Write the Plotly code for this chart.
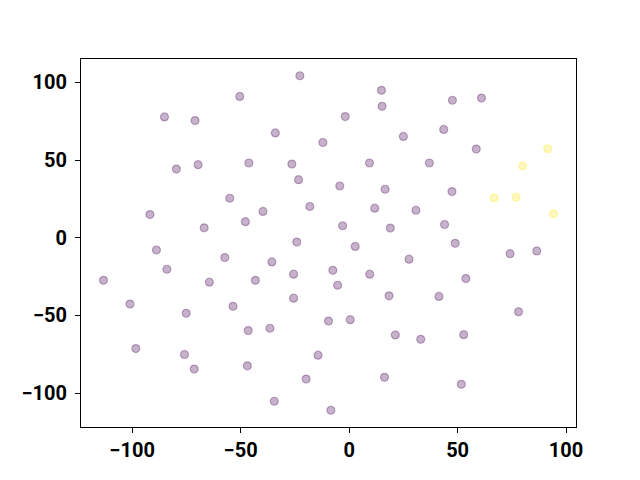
import plotly.graph_objects as go

# purple group (cluster 0)
x_purple = [-50.4, -85.1, -71.0, -79.6, -69.6, -46.2, -55.0, -91.8, -66.8, -47.8,
            -88.8, -22.7, 14.9, 15.2, -1.8, -34.0, -12.1, 25.0, -26.4, 9.4,
            -23.3, -4.3, 16.6, -18.1, 11.8, -39.7, -3.0, 19.0, -24.1, 2.8,
            47.6, 61.0, 43.6, 58.6, 37.0, 47.4, 30.8, 44.0, 48.9, -57.3,
            -84.0, -113.2, -64.4, -101.0, -75.1, -53.5, -46.5, -98.3, -75.9, -71.4,
            -46.9, -35.6, 27.6, -25.6, -7.5, 9.5, -43.2, -5.3, 18.4, -25.6,
            -9.5, 0.5, -36.5, 21.3, -14.3, -19.8, 16.3, -34.5, -8.4, 74.2,
            86.5, 53.8, 41.4, 78.1, 33.0, 52.8, 51.7]
y_purple = [91.0, 77.8, 75.4, 44.2, 47.0, 48.1, 25.4, 14.9, 6.4, 10.3,
            -7.9, 104.3, 94.9, 84.6, 78.0, 67.5, 61.3, 65.2, 47.4, 48.1,
            37.4, 33.3, 31.2, 20.1, 19.0, 16.9, 7.7, 6.2, -2.8, -5.6,
            88.5, 89.9, 69.7, 57.1, 48.1, 29.7, 17.7, 8.5, -3.6, -12.8,
            -20.3, -27.4, -28.6, -42.7, -48.7, -44.2, -59.8, -71.4, -75.2, -84.6,
            -82.5, -15.6, -13.8, -23.5, -21.0, -23.5, -27.4, -30.6, -37.4, -38.9,
            -53.7, -52.8, -58.3, -62.6, -75.6, -91.0, -89.9, -105.3, -111.1, -10.3,
            -8.5, -26.3, -37.8, -47.6, -65.4, -62.4, -94.4]

# yellow group (cluster 1)
x_yellow = [91.5, 80.0, 66.9, 77.0, 94.2]
y_yellow = [57.3, 46.2, 25.6, 26.1, 15.4]

x_ticks = [-100, -50, 0, 50, 100]
y_ticks = [-100, -50, 0, 50, 100]

purple = "rgba(68,1,84,0.3)"
yellow = "rgba(253,231,37,0.3)"

fig = go.Figure()
fig.add_trace(go.Scatter(x=x_purple, y=y_purple, mode="markers",
                         marker=dict(size=8, color=purple, line=dict(color=purple, width=1.2)),
                         showlegend=False))
fig.add_trace(go.Scatter(x=x_yellow, y=y_yellow, mode="markers",
                         marker=dict(size=8, color=yellow, line=dict(color=yellow, width=1.2)),
                         showlegend=False))

allx = x_purple + x_yellow
ally = y_purple + y_yellow
dx = (max(allx) - min(allx)) * 0.05
dy = (max(ally) - min(ally)) * 0.05

axis_common = dict(showgrid=False, zeroline=False, showline=True, linecolor="black",
                   linewidth=1, mirror=True, ticks="outside", ticklen=5, tickwidth=1,
                   tickcolor="black", automargin=False,
                   tickfont=dict(family="Roboto", size=20, color="black", weight="bold"))

fig.update_xaxes(range=[min(allx) - dx, max(allx) + dx], tickvals=x_ticks, **axis_common)
fig.update_yaxes(range=[min(ally) - dy, max(ally) + dy], tickvals=y_ticks,
                 ticklabelstandoff=4, **axis_common)

# the page body adds an 8px offset, so margins are compensated
fig.update_layout(width=640, height=480, plot_bgcolor="white", paper_bgcolor="white",
                  margin=dict(l=73, r=72, t=51, b=61))

fig.write_html("out.html")
